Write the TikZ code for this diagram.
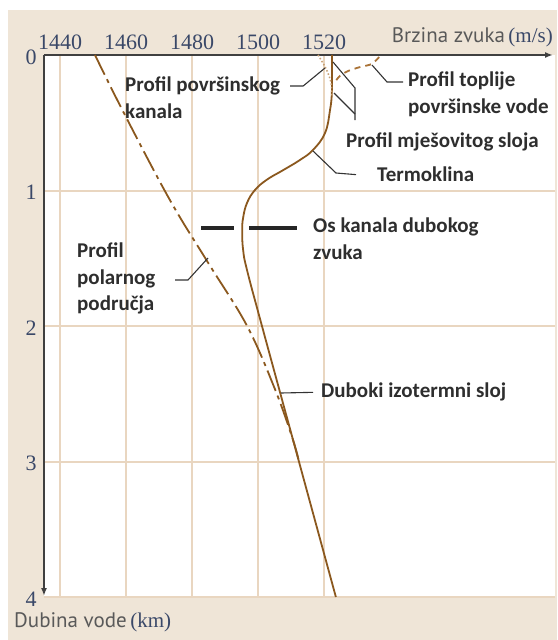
\documentclass[tikz,border=0pt]{standalone}
\usepackage{fontspec}
\setmainfont{Liberation Serif}
\newfontfamily\lblfont{Carlito}
\newfontfamily\axfont{PT Sans}
\usetikzlibrary{arrows.meta}
\definecolor{papir}{RGB}{239,229,215}
\definecolor{mreza}{RGB}{233,214,192}
\definecolor{smeda}{RGB}{139,88,30}
\definecolor{topla}{RGB}{170,115,55}
\definecolor{svsmeda}{RGB}{200,160,115}
\definecolor{brojka}{RGB}{58,72,104}
\tikzset{%
  gridline/.style = {draw=mreza, line width=2pt},%
  axis/.style     = {draw=black!75, line width=1.6pt,%
                     -{Latex[length=8pt,width=6pt]}},%
  profile/.style  = {draw=smeda, line width=1.8pt},%
  polar/.style    = {profile, dash pattern=on 22pt off 5pt on 4pt off 5pt},%
  warm/.style     = {draw=topla, line width=1.8pt, dash pattern=on 6pt off 5pt},%
  surf/.style     = {draw=svsmeda, line width=1.5pt, dash pattern=on 1.5pt off 2pt},%
  osline/.style   = {draw=black!85, line width=3.2pt,%
                     dash pattern=on 33pt off 15pt on 48pt off 5pt},%
  leader/.style   = {draw=black!80, line width=1.1pt},%
  lbl/.style      = {font=\lblfont\bfseries\fontsize{21}{26.5}\selectfont,%
                     text=black!82, align=left, inner sep=0pt, anchor=north west},%
  tick/.style     = {font=\fontsize{22}{24}\selectfont, text=brojka, inner sep=0pt},%
  axtitle/.style  = {font=\axfont\fontsize{21}{24}\selectfont, text=black!65, inner sep=0pt}%
}
\begin{document}
\begin{tikzpicture}[x=1pt,y=-1pt]
	\useasboundingbox (0,0) rectangle (557,640);
	\fill[papir] (8,10) rectangle (557,640);
	\fill[white] (44,55) rectangle (555,597);
	\foreach \i in {0,...,4}
		\draw[gridline] (60+66*\i,55) -- (60+66*\i,597);
	\foreach \d in {1,...,4}
		\draw[gridline] (44,55+135.5*\d) -- (555,55+135.5*\d);
	\foreach \v [count=\i from 0] in {1440,1460,1480,1500,1520}
		\node[tick] (v\v) at (60+66*\i,42) {\v};
	\foreach \d in {0,...,4}
		\node[tick] (d\d) at (31,57+135.5*\d) {\d};
	\coordinate (O) at (44,55);
	\coordinate (xend) at (553,55);
	\coordinate (yend) at (44,596);
	\draw[axis] (O) -- (xend);
	\draw[axis] (O) -- (yend);
	\node[axtitle, anchor=east] (xtit) at (553,37)
		{Brzina zvuka\,{\rmfamily\color{brojka}(m/s)}};
	\node[axtitle, anchor=west] (ytit) at (14,622)
		{Dubina vode\,{\rmfamily\color{brojka}(km)}};
	\begin{scope}[shift={(60,55)},x=3.3pt,y=-135.5pt]
		\draw[polar] plot[smooth,tension=0.6] coordinates {(10.6,0) (19.4,0.43)
			(33.3,1.07) (44.8,1.53) (56.7,2.0) (65.2,2.47) (70.6,2.84) (72.4,3.0)};
		\draw[profile] plot[smooth,tension=0.7] coordinates {(82.4,0) (82.4,0.26)
			(81.8,0.41) (80.3,0.576) (76.7,0.70) (72.7,0.775) (67.6,0.85) (62.7,0.92)
			(59.1,0.996) (56.7,1.09) (55.5,1.2) (55.2,1.3) (55.5,1.44) (56.7,1.59)
			(61.2,2.0) (72.4,3.0) (83.6,4.0)};
		\draw[surf] plot[smooth] coordinates {(78.2,0) (80.6,0.1) (82.1,0.2) (82.4,0.3)};
		\draw[warm] plot[smooth] coordinates {(96.7,0.015) (94.5,0.066) (90.9,0.089)
			(87.3,0.118) (84.8,0.155) (83.3,0.2)};
	\end{scope}
	\coordinate (pKan) at (325,68);
	\coordinate (pTop) at (372,65);
	\coordinate (pMj1) at (333,62);
	\coordinate (pMj2) at (334,93);
	\coordinate (mjK1) at (355,88);
	\coordinate (mjK2) at (355,114);
	\coordinate (pTer) at (313,151);
	\coordinate (pPol) at (208,258);
	\coordinate (polK) at (175,280);
	\coordinate (pDub) at (281,393);
	\coordinate (osL) at (201,228);
	\coordinate (osR) at (302,228);
	\draw[osline] (osL) -- (osR);
	\node[lbl] (kanal) at (125,77) {Profil površinskog\\kanala};
	\node[lbl] (toplije) at (408,72) {Profil toplije\\površinske vode};
	\node[lbl] (mjes) at (346,133) {Profil mješovitog sloja};
	\node[lbl] (termo) at (377,167) {Termoklina};
	\node[lbl] (os) at (313,218) {Os kanala dubokog\\zvuka};
	\node[lbl] (polar) at (77,243) {Profil\\polarnog\\područja};
	\node[lbl] (dub) at (321,383) {Duboki izotermni sloj};
	\draw[leader] ([xshift=10pt,yshift=-9pt]kanal.north east) -- ++(13,0) -- (pKan);
	\draw[leader] ([xshift=-5pt,yshift=-10pt]toplije.north west) -- ++(-16,0) -- (pTop);
	\draw[leader] (pMj1) -- (mjK1) -- ([xshift=9pt,yshift=13pt]mjes.north west);
	\draw[leader] (pMj2) -- (mjK2);
	\draw[leader] (pTer) -- ++(23,22) -- ([xshift=-21pt]termo.west);
	\draw[leader] (polK) -- ++(13,0) -- (pPol);
	\draw[leader] (pDub) -- ([xshift=-8pt]dub.west);
\end{tikzpicture}
\end{document}
